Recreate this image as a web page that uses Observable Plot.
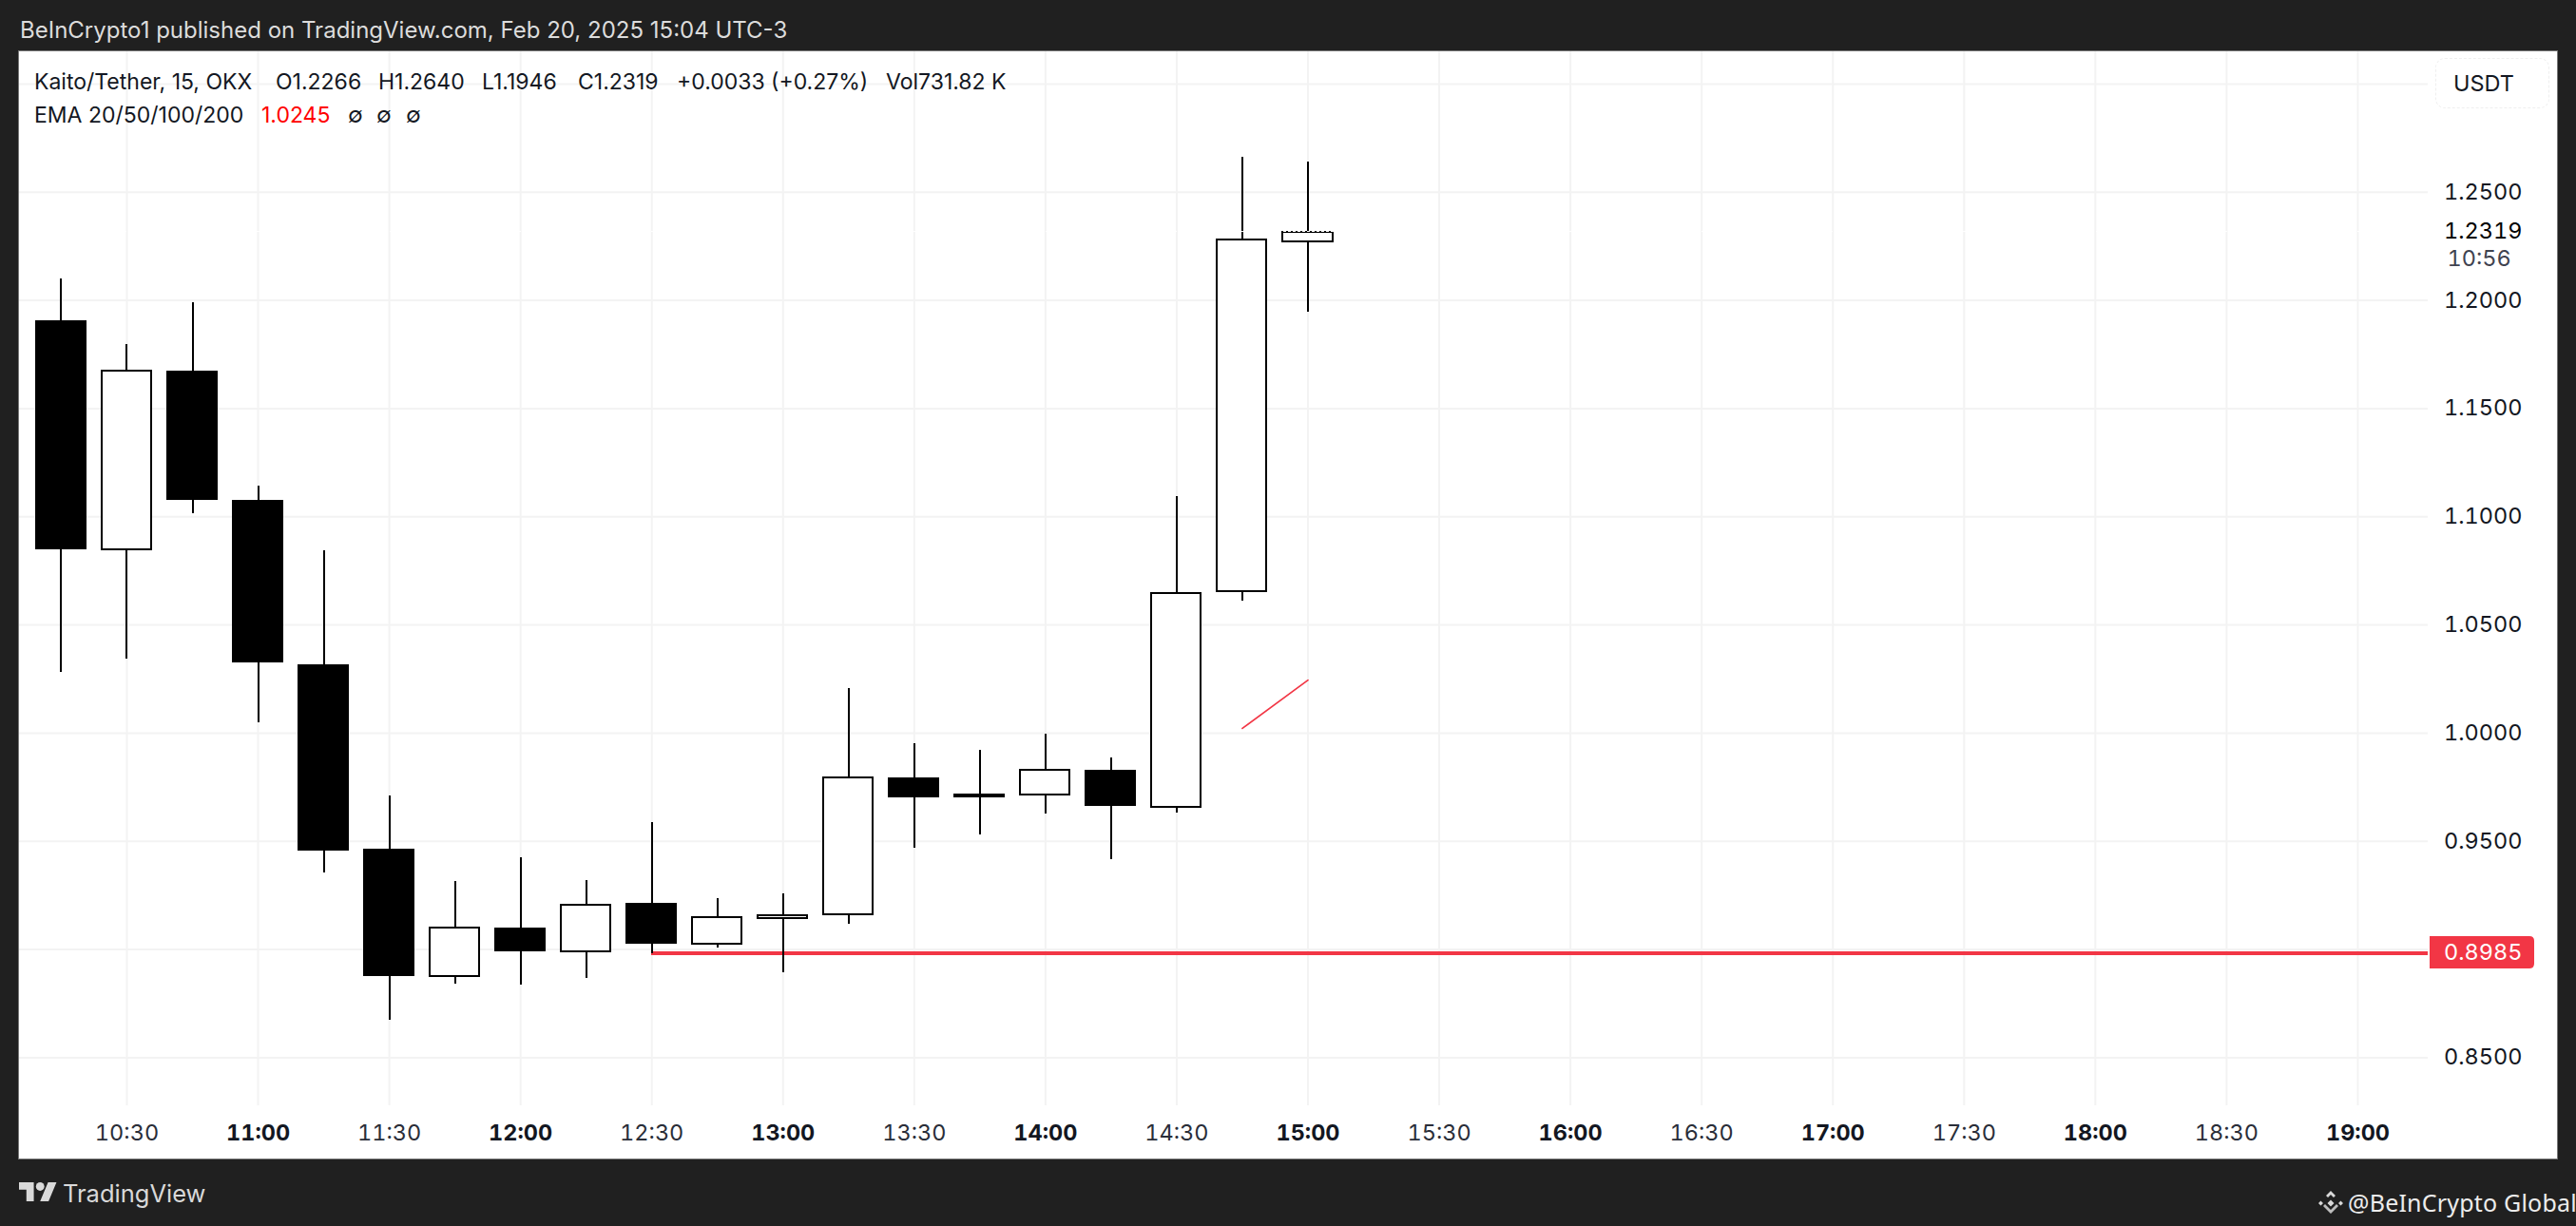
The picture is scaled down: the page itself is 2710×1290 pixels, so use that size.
<!DOCTYPE html>
<html>
<head>
<meta charset="utf-8">
<script src="https://cdn.jsdelivr.net/npm/d3@7"></script>
<script src="https://cdn.jsdelivr.net/npm/@observablehq/plot@0.6"></script>
<style>
  html, body { margin: 0; padding: 0; width: 2710px; height: 1290px; background: #202020; overflow: hidden; font-family: Inter, sans-serif; }
  .abs { position: absolute; white-space: nowrap; line-height: 1; }
  #panel { position: absolute; left: 20px; top: 54px; width: 2670px; height: 1165px; outline: 1px solid #777; }
  #panel svg { display: block; }
  #usdt { position: absolute; left: 2562px; top: 61px; width: 118px; height: 51px; border: 1px dashed #efefef; border-radius: 10px; background: #fff; }
  .leg { font-size: 23px; color: #131722; }
</style>
</head>
<body>
<div class="abs" id="header" style="left:21px;top:20px;font-size:24px;color:#dcdcdc;">BeInCrypto1 published on TradingView.com, Feb 20, 2025 15:04 UTC-3</div>
<div id="panel"></div>
<div id="usdt"></div>
<div class="abs" style="left:2581px;top:76px;font-size:23.5px;color:#131722;">USDT</div>

<div class="abs leg" style="left:36px;top:75px;">Kaito/Tether, 15, OKX</div>
<div class="abs leg" style="left:290px;top:75px;">O1.2266</div>
<div class="abs leg" style="left:398px;top:75px;">H1.2640</div>
<div class="abs leg" style="left:507px;top:75px;">L1.1946</div>
<div class="abs leg" style="left:608px;top:75px;">C1.2319</div>
<div class="abs leg" style="left:712px;top:75px;">+0.0033 (+0.27%)</div>
<div class="abs leg" style="left:932px;top:75px;">Vol731.82 K</div>
<div class="abs leg" style="left:36px;top:110px;">EMA 20/50/100/200</div>
<div class="abs leg" style="left:275px;top:110px;color:#ff0000;">1.0245</div>
<div class="abs leg" style="left:366px;top:110px;">∅</div>
<div class="abs leg" style="left:396px;top:110px;">∅</div>
<div class="abs leg" style="left:427px;top:110px;">∅</div>

<svg class="abs" style="left:20px;top:1244px;" width="40" height="20" viewBox="0 4 36 18" fill="#d9d9d9"><path d="M14 22H7V11H0V4h14v18zM28 22h-8l7.5-18h8L28 22z"/><circle cx="20" cy="8" r="4"/></svg>
<div class="abs" style="left:66px;top:1243px;font-size:25.500px;color:#d9d9d9;">TradingView</div>
<svg class="abs" style="left:2438px;top:1252px;" width="28" height="28" viewBox="0 0 28 28" fill="#d9d9d9"><path d="M14 1l5 5-2 2-3-3-3 3-2-2zM1 14l2.500-2.500L6 14l-2.500 2.500zM22 14l2.500-2.500L27 14l-2.500 2.500zM14 10.500L17.500 14 14 17.500 10.500 14z"/><path d="M6 17l2-2 6 6 6-6 2 2-8 8z" opacity="0.85"/></svg>
<div class="abs" style="left:2470px;top:1253px;font-size:25px;letter-spacing:0.2px;font-family:'Noto Sans',sans-serif;color:#ececec;">@BeInCrypto Global</div>

<script>
const times  = ["10:15","10:30","10:45","11:00","11:15","11:30","11:45","12:00","12:15","12:30","12:45","13:00","13:15","13:30","13:45","14:00","14:15","14:30","14:45","15:00"];
const opens  = [1.1906,1.0843,1.1673,1.1076,1.0316,0.9464,0.8871,0.9099,0.8985,0.9214,0.9020,0.9139,0.9157,0.9793,0.9719,0.9710,0.9829,0.9653,1.0650,1.2266];
const highs  = [1.2099,1.1796,1.1989,1.1142,1.0843,0.9710,0.9315,0.9424,0.9319,0.9587,0.9236,0.9258,1.0206,0.9951,0.9921,0.9995,0.9886,1.1093,1.2661,1.2640];
const lows   = [1.0281,1.0342,1.1014,1.0048,0.9354,0.8673,0.8840,0.8836,0.8867,0.8981,0.9007,0.8893,0.9117,0.9468,0.9530,0.9626,0.9416,0.9631,1.0610,1.1946];
const closes = [1.0847,1.1677,1.1076,1.0325,0.9455,0.8875,0.9104,0.8990,0.9209,0.9025,0.9152,0.9161,0.9798,0.9701,0.9701,0.9833,0.9662,1.0650,1.2283,1.2319];

const emaTimes  = ["14:45","15:00"];
const emaValues = [1.0022,1.0245];

const levelStart = "12:30";
const levelPrice = 0.8985;
const lastClose  = 1.2319;
const countdown  = "10:56";

const halfHourLabels = ["10:30","11:30","12:30","13:30","14:30","15:30","16:30","17:30","18:30"];
const hourLabels     = ["11:00","12:00","13:00","14:00","15:00","16:00","17:00","18:00","19:00"];
const priceTicks     = [0.85,0.90,0.95,1.00,1.05,1.10,1.15,1.20,1.25];
const priceGrid      = [...priceTicks, 1.30];

const T = s => { const [h,m] = s.split(":").map(Number); return new Date(Date.UTC(2025,1,20,h,m)); };
const candles = times.map((t,i) => ({t:T(t), open:opens[i], high:highs[i], low:lows[i], close:closes[i]}));
const ema = emaTimes.map((t,i) => ({t:T(t), v:emaValues[i]}));
const halfBody = 5.87 * 60000;
const ink = "#131722", gridColor = "#f3f3f3", red = "#f23645";
const up = candles.filter(d => d.close >= d.open), down = candles.filter(d => d.close < d.open);

function badge(index, scales, values, dims) {
  const y = scales.y(levelPrice), x0 = dims.width - dims.marginRight + 2, x1 = x0 + 110, h = 17, r = 5;
  return d3.create("svg:path")
    .attr("d", `M${x0},${y-h}H${x1-r}Q${x1},${y-h} ${x1},${y-h+r}V${y+h-r}Q${x1},${y+h} ${x1-r},${y+h}H${x0}Z`)
    .attr("fill", red).node();
}

const chart = Plot.plot({
  width: 2670, height: 1165,
  marginLeft: 0, marginRight: 136, marginTop: 0, marginBottom: 56,
  style: {background:"#fff", fontFamily:"Inter, sans-serif", fontSize:"23.5px", color:ink, fontVariantNumeric:"tabular-nums"},
  x: {type:"utc", domain:[new Date(Date.UTC(2025,1,20,10,5,27)), new Date(Date.UTC(2025,1,20,19,16,5))]},
  y: {domain:[0.8278,1.3149]},
  marks: [
    Plot.gridX({ticks:[...halfHourLabels,...hourLabels].map(T), stroke:gridColor, strokeOpacity:1, strokeWidth:2}),
    Plot.gridY({ticks:priceGrid, stroke:gridColor, strokeOpacity:1, strokeWidth:2}),
    Plot.ruleY([levelPrice], {x1:T(levelStart), x2:new Date(Date.UTC(2025,1,20,19,16,5)), stroke:red, strokeWidth:4, shapeRendering:"crispEdges"}),
    Plot.lineY(ema, {x:"t", y:"v", stroke:red, strokeWidth:1.7}),
    Plot.ruleX(candles, {x:"t", y1:"low", y2:"high", stroke:"#000", strokeWidth:2, shapeRendering:"crispEdges"}),
    Plot.rectY(down, {x1:d=>+d.t-halfBody, x2:d=>+d.t+halfBody, y1:"open", y2:"close", fill:"#000", shapeRendering:"crispEdges"}),
    Plot.rectY(up, {x1:d=>+d.t-halfBody, x2:d=>+d.t+halfBody, y1:"open", y2:"close", fill:"#fff", stroke:"#000", strokeWidth:2, inset:1, shapeRendering:"crispEdges"}),
    Plot.ruleY([lastClose], {stroke:"#fff", strokeWidth:1, strokeDasharray:"3 2"}),
    Plot.axisX({ticks:halfHourLabels.map(T), tickFormat:d3.utcFormat("%H:%M"), tickSize:0, tickPadding:20, label:null, fill:"#2a2e39"}),
    Plot.axisX({ticks:hourLabels.map(T), tickFormat:d3.utcFormat("%H:%M"), tickSize:0, tickPadding:20, label:null, fontWeight:700, fill:ink}),
    Plot.axisY({anchor:"right", ticks:priceTicks, tickFormat:d3.format(".4f"), tickSize:0, tickPadding:99, textAnchor:"end", label:null, fill:ink}),
    Plot.text([lastClose], {y:d=>d, frameAnchor:"right", dx:99, textAnchor:"end", text:d=>d3.format(".4f")(d), fill:"#000"}),
    Plot.text([lastClose], {y:d=>d, frameAnchor:"right", dx:20, dy:29, textAnchor:"start", text:()=>countdown, fill:"#3f4350"}),
    badge,
    Plot.text([levelPrice], {y:d=>d, frameAnchor:"right", dx:99, textAnchor:"end", text:d=>d3.format(".4f")(d), fill:"#fff"})
  ]
});
document.getElementById("panel").appendChild(chart);
</script>
</body>
</html>
